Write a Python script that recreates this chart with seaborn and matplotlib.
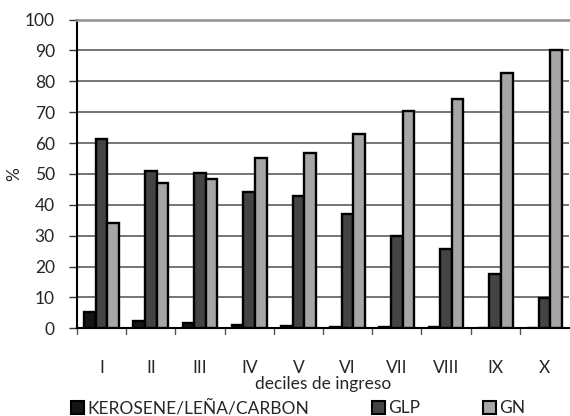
import matplotlib
matplotlib.use("Agg")
import matplotlib.pyplot as plt
import seaborn as sns
import pandas as pd
from matplotlib.patches import Patch

deciles = ["I", "II", "III", "IV", "V", "VI", "VII", "VIII", "IX", "X"]
kerosene = [5.2, 2.4, 1.6, 1.0, 0.9, 0.5, 0.3, 0.3, 0.2, 0.0]
glp = [61.3, 50.9, 50.4, 44.3, 42.9, 37.0, 29.8, 25.7, 17.6, 9.9]
gn = [34.1, 47.2, 48.5, 55.3, 56.7, 62.9, 70.3, 74.4, 82.6, 90.1]
series_names = ["KEROSENE/LEÑA/CARBON", "GLP", "GN"]
y_ticks = [0, 10, 20, 30, 40, 50, 60, 70, 80, 90, 100]

rows = []
for name, vals in zip(series_names, [kerosene, glp, gn]):
    for d, v in zip(deciles, vals):
        rows.append({"decil": d, "fuente": name, "valor": v})
df = pd.DataFrame(rows)

sns.set_theme(style="white")
plt.rcParams["font.family"] = ["Lato", "DejaVu Sans"]

fig = plt.figure(figsize=(5.7, 4.16), dpi=100)
ax = fig.add_axes([77 / 570, 1 - 328.3 / 416, 492 / 570, 308.8 / 416])

colors = ["#141414", "#444444", "#a6a6a6"]
sns.barplot(data=df, x="decil", y="valor", hue="fuente", order=deciles,
            hue_order=series_names, palette=colors, width=0.71,
            edgecolor="black", linewidth=1.7, saturation=1, ax=ax,
            legend=False, zorder=3)

ax.set_ylim(0, 100)
ax.set_xlim(-0.5, len(deciles) - 0.5)
ax.set_yticks(y_ticks)
ax.set_yticklabels([str(t) for t in y_ticks], fontsize=12.5)
for t in y_ticks[1:-1]:
    ax.axhline(t, color="#505050", lw=1.1, zorder=1)

# Category labels centred, ticks at the boundaries
ax.set_xticks(range(len(deciles)))
ax.set_xticklabels(deciles, fontsize=12.5)
ax.tick_params(axis="x", length=0, pad=23)
for b in [i + 0.5 for i in range(len(deciles) - 1)] + [-0.5]:
    ax.plot([b, b], [0, -0.017], transform=ax.get_xaxis_transform(),
            color="#555555", lw=1.0, clip_on=False)
ax.tick_params(axis="y", direction="out", length=6, width=1,
               color="#333333", left=True, pad=10)

ax.set_xlabel("deciles de ingreso", fontsize=12.5, labelpad=0)
ax.set_ylabel("%", fontsize=12.5)
ax.yaxis.set_label_coords(-0.112, 0.5)

for s in ["left", "bottom"]:
    ax.spines[s].set_color("black")
    ax.spines[s].set_linewidth(1.5)
ax.spines["right"].set_visible(False)
ax.spines["top"].set_color("#999999")
ax.spines["top"].set_linewidth(2)

handles = [Patch(facecolor=c, edgecolor="black", linewidth=1.5) for c in colors]
fig.legend(handles, series_names, loc="center", bbox_to_anchor=(298 / 570, 1 - 408 / 416),
           ncol=3, frameon=False, fontsize=12.5, handlelength=0.75, handleheight=0.75,
           handletextpad=0.2, columnspacing=3.6, borderaxespad=0, borderpad=0)

fig.savefig("out.png", dpi=100)
